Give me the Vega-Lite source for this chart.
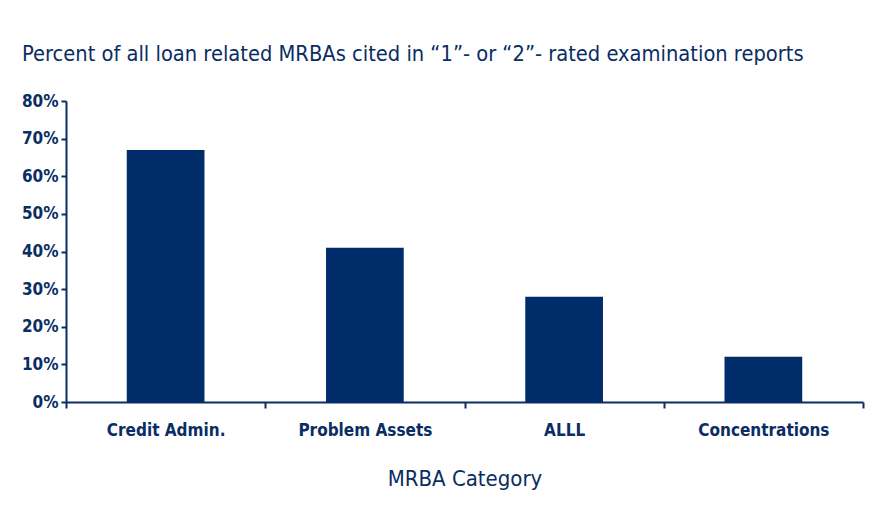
{
  "$schema": "https://vega.github.io/schema/vega-lite/v6.json",
  "width": 797,
  "height": 301,
  "autosize": {"type": "none"},
  "padding": {"left": 66, "top": 101, "right": 11, "bottom": 110},
  "background": "white",
  "title": {
    "text": "Percent of all loan related MRBAs cited  in \u201c1\u201d- or \u201c2\u201d- rated  examination  reports",
    "anchor": "start",
    "frame": "group",
    "dx": -44,
    "offset": 9,
    "baseline": "alphabetic",
    "font": "DejaVu Sans Condensed, Liberation Sans, sans-serif",
    "fontSize": 21.7,
    "fontWeight": "normal",
    "color": "#0a2d63"
  },
  "data": {
    "values": [
      {"category": "Credit Admin.", "pct": 0.67},
      {"category": "Problem Assets", "pct": 0.41},
      {"category": "ALLL", "pct": 0.28},
      {"category": "Concentrations", "pct": 0.12}
    ]
  },
  "mark": {"type": "bar", "color": "#002d6a", "width": {"band": 0.39}},
  "encoding": {
    "x": {
      "field": "category",
      "type": "nominal",
      "sort": null,
      "scale": {"paddingInner": 0, "paddingOuter": 0},
      "axis": {
        "title": "MRBA Category",
        "labelAngle": 0,
        "tickBand": "extent",
        "tickSize": 6,
        "tickWidth": 2,
        "tickColor": "#0a2d63",
        "domainColor": "#0a2d63",
        "domainWidth": 2,
        "labelPadding": 14,
        "labelFont": "DejaVu Sans Condensed, Liberation Sans, sans-serif",
        "labelFontWeight": "bold",
        "labelFontSize": 17,
        "labelColor": "#0a2d63",
        "titleFont": "DejaVu Sans Condensed, Liberation Sans, sans-serif",
        "titleFontWeight": "normal",
        "titleFontSize": 22,
        "titleColor": "#0a2d63",
        "titlePadding": 30
      }
    },
    "y": {
      "field": "pct",
      "type": "quantitative",
      "scale": {"domain": [0, 0.8]},
      "axis": {
        "title": null,
        "values": [0, 0.1, 0.2, 0.3, 0.4, 0.5, 0.6, 0.7, 0.8],
        "format": ".0%",
        "grid": false,
        "tickSize": 5,
        "tickWidth": 2,
        "tickColor": "#0a2d63",
        "domainColor": "#0a2d63",
        "domainWidth": 2,
        "labelPadding": 3,
        "labelFont": "DejaVu Sans Condensed, Liberation Sans, sans-serif",
        "labelFontWeight": "bold",
        "labelFontSize": 17,
        "labelColor": "#0a2d63"
      }
    }
  },
  "config": {"view": {"stroke": null}}
}
